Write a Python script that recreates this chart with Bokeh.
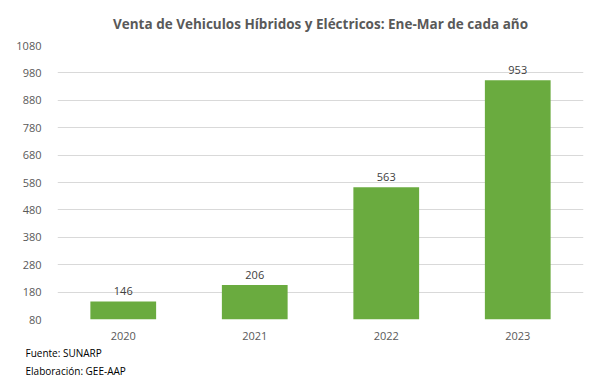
from bokeh.plotting import figure
from bokeh.models import ColumnDataSource, Title, FixedTicker, LabelSet
from bokeh.core.properties import value
from bokeh.embed import file_html
from bokeh.resources import INLINE

years = ["2020", "2021", "2022", "2023"]
ventas = [146, 206, 563, 953]
y_ticks = [80, 180, 280, 380, 480, 580, 680, 780, 880, 980, 1080]

FONT = "Open Sans"
src = ColumnDataSource(dict(x=years, top=ventas, lbl=[str(v) for v in ventas]))

p = figure(x_range=years, y_range=(80, 1080), width=594, height=378,
           output_backend="svg", toolbar_location=None,
           min_border_left=57, min_border_right=11, min_border_top=26,
           min_border_bottom=10)
p.title.text = "Venta de Vehiculos Híbridos y Eléctricos: Ene-Mar de cada año"
p.title.align = "center"
p.title.text_font = FONT
p.title.text_font_size = "13.5px"
p.title.text_font_style = "bold"
p.title.text_color = "#595959"
p.title.offset = 0
p.title.standoff = 25

p.vbar(x="x", top="top", bottom=80, width=0.5, source=src,
       fill_color="#6aab3f", line_color=None)

labels = LabelSet(x="x", y="top", text="lbl", source=src, text_align="center",
                  text_baseline="bottom", y_offset=6, text_font=value(FONT),
                  text_font_size=value("11px"), text_color="#404040")
p.add_layout(labels)

p.yaxis.ticker = FixedTicker(ticks=y_ticks)
for ax in (p.xaxis, p.yaxis):
    ax.axis_line_color = None
    ax.major_tick_line_color = None
    ax.minor_tick_line_color = None
    ax.major_label_text_font = FONT
    ax.major_label_text_font_size = "11px"
    ax.major_label_text_color = "#595959"
p.yaxis.major_label_standoff = 10
p.xaxis.major_label_standoff = 6
p.xgrid.grid_line_color = None
p.ygrid.grid_line_color = "#d9d9d9"
p.ygrid.ticker = FixedTicker(ticks=y_ticks)
p.outline_line_color = None

for txt in ["Fuente: SUNARP", "Elaboración: GEE-AAP"]:
    t = Title(text=txt, align="left", text_font=FONT, text_font_size="10px",
              text_font_style="normal", text_color="#000000", offset=-32,
              standoff=2)
    p.add_layout(t, "below")

open("out.html", "w").write(file_html(p, INLINE))
